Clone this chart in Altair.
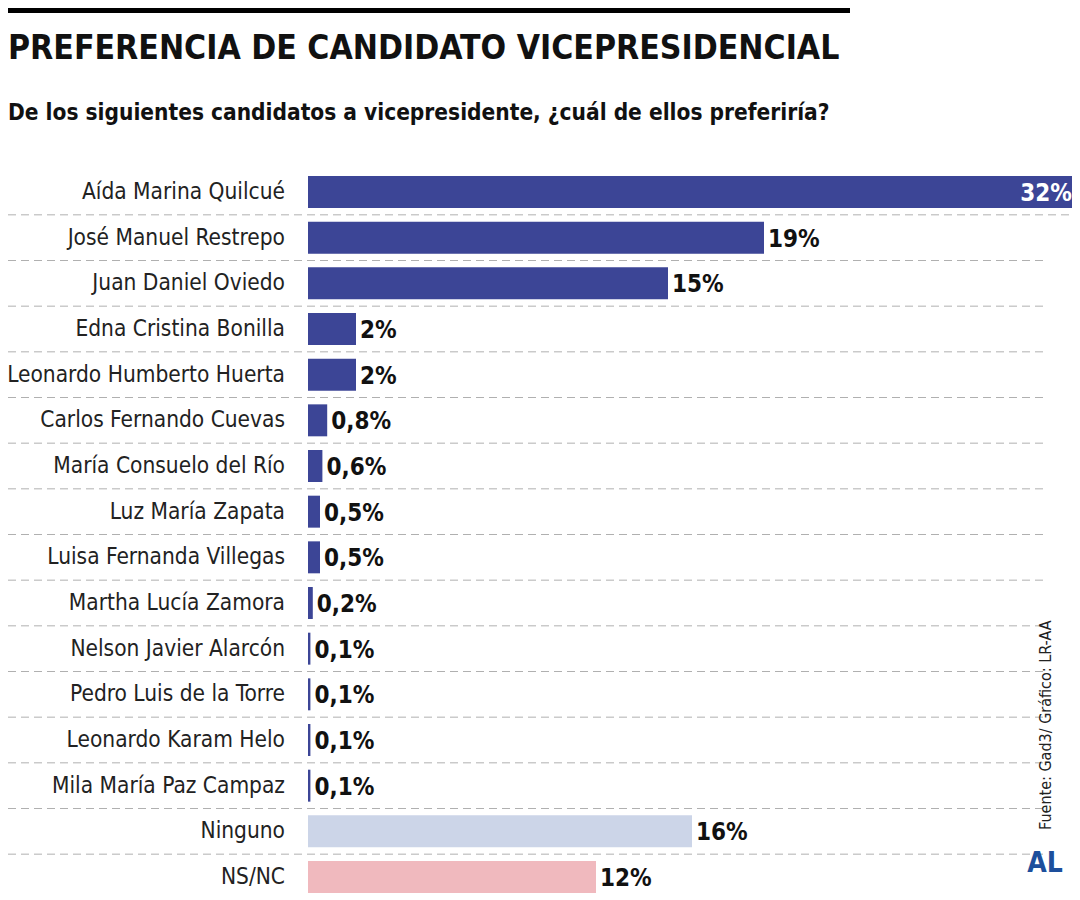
import altair as alt
import pandas as pd

names = [
    "Aída Marina Quilcué", "José Manuel Restrepo", "Juan Daniel Oviedo",
    "Edna Cristina Bonilla", "Leonardo Humberto Huerta", "Carlos Fernando Cuevas",
    "María Consuelo del Río", "Luz María Zapata", "Luisa Fernanda Villegas",
    "Martha Lucía Zamora", "Nelson Javier Alarcón", "Pedro Luis de la Torre",
    "Leonardo Karam Helo", "Mila María Paz Campaz", "Ninguno", "NS/NC",
]
values = [32, 19, 15, 2, 2, 0.8, 0.6, 0.5, 0.5, 0.2, 0.1, 0.1, 0.1, 0.1, 16, 12]
value_labels = ["32%", "19%", "15%", "2%", "2%", "0,8%", "0,6%", "0,5%", "0,5%",
                "0,2%", "0,1%", "0,1%", "0,1%", "0,1%", "16%", "12%"]
groups = ["candidato"] * 14 + ["ninguno", "nsnc"]
group_colors = ["#3c4596", "#ccd5e8", "#f0b9be"]

title = "PREFERENCIA DE CANDIDATO VICEPRESIDENCIAL"
subtitle = "De los siguientes candidatos a vicepresidente, ¿cuál de ellos preferiría?"
source = "Fuente:  Gad3/ Gráfico: LR-AA"
logo = "AL"

FONT = "DejaVu Sans Condensed, sans-serif"

df = pd.DataFrame({"name": names, "value": values, "label": value_labels,
                   "group": groups, "idx": list(range(len(names)))})

step = (869 - 184) / 15
yscale = alt.Scale(domain=names, range=[184 - step / 2, 869 + step / 2],
                   paddingInner=0.3, paddingOuter=0.15)
xscale = alt.Scale(domain=[0, 32], range=[300, 1068])

base = alt.Chart(df)

Y = alt.Y("name:N", scale=yscale, axis=None, sort=names)
YSEP = alt.Y("name:N", scale=yscale, axis=None, sort=names, bandPosition=0)

bars = base.mark_bar().encode(
    x=alt.X("value:Q", scale=xscale, axis=None),
    x2=alt.datum(0),
    y=Y,
    color=alt.Color("group:N", scale=alt.Scale(domain=["candidato", "ninguno", "nsnc"],
                                               range=group_colors), legend=None),
)

seps = base.transform_filter("datum.idx > 1").mark_rule(
    color="#b0b0b0", strokeWidth=1, strokeDash=[8, 5], yOffset=-step * 0.15
).encode(y=YSEP, x=alt.value(0), x2=alt.value(1037))

sep_first = base.transform_filter("datum.idx == 1").mark_rule(
    color="#b0b0b0", strokeWidth=1, strokeDash=[8, 5], yOffset=-step * 0.15
).encode(y=YSEP, x=alt.value(0), x2=alt.value(1068))

name_text = base.mark_text(align="right", baseline="middle", font=FONT,
                           fontSize=22.5, color="#222222").encode(
    y=Y, x=alt.value(277), text="name:N")

val_out = base.transform_filter("datum.value < 30").mark_text(
    align="left", baseline="middle", font=FONT, fontSize=24, fontWeight="bold",
    color="#111111", dx=4, dy=2).encode(
    y=Y, x=alt.X("value:Q", scale=xscale, axis=None), text="label:N")

val_in = base.transform_filter("datum.value >= 30").mark_text(
    align="right", baseline="middle", font=FONT, fontSize=24, fontWeight="bold",
    color="white", dx=-4, dy=2).encode(
    y=Y, x=alt.X("value:Q", scale=xscale, axis=None), text="label:N")

one = alt.Chart(pd.DataFrame({"t": [title], "s": [subtitle], "f": [source], "l": [logo]}))

topbar = one.mark_rect(color="black").encode(
    x=alt.value(0), x2=alt.value(842), y=alt.value(0), y2=alt.value(5))

title_t = one.mark_text(align="left", baseline="alphabetic", font=FONT, fontSize=33.5,
                        fontWeight="bold", color="#111111").encode(
    x=alt.value(0), y=alt.value(51), text="t:N")

sub_t = one.mark_text(align="left", baseline="alphabetic", font=FONT, fontSize=22.5,
                      fontWeight="bold", color="#111111").encode(
    x=alt.value(0), y=alt.value(112), text="s:N")

src_t = one.mark_text(align="left", baseline="alphabetic", font=FONT, fontSize=16,
                      angle=270, color="#222222").encode(
    x=alt.value(1043), y=alt.value(822), text="f:N")

logo_t = one.mark_text(align="center", baseline="alphabetic", font=FONT, fontSize=28,
                       fontWeight="bold", color="#1d4f9c").encode(
    x=alt.value(1037), y=alt.value(864), text="l:N")

chart = alt.layer(topbar, title_t, sub_t, seps, sep_first, bars, name_text, val_out,
                  val_in, src_t, logo_t).properties(
    width=1064, height=886, padding=0,
    autosize=alt.AutoSizeParams(type="none"),
).configure_view(stroke=None)

chart.save("out.html", embed_options={"renderer": "svg", "actions": False})
